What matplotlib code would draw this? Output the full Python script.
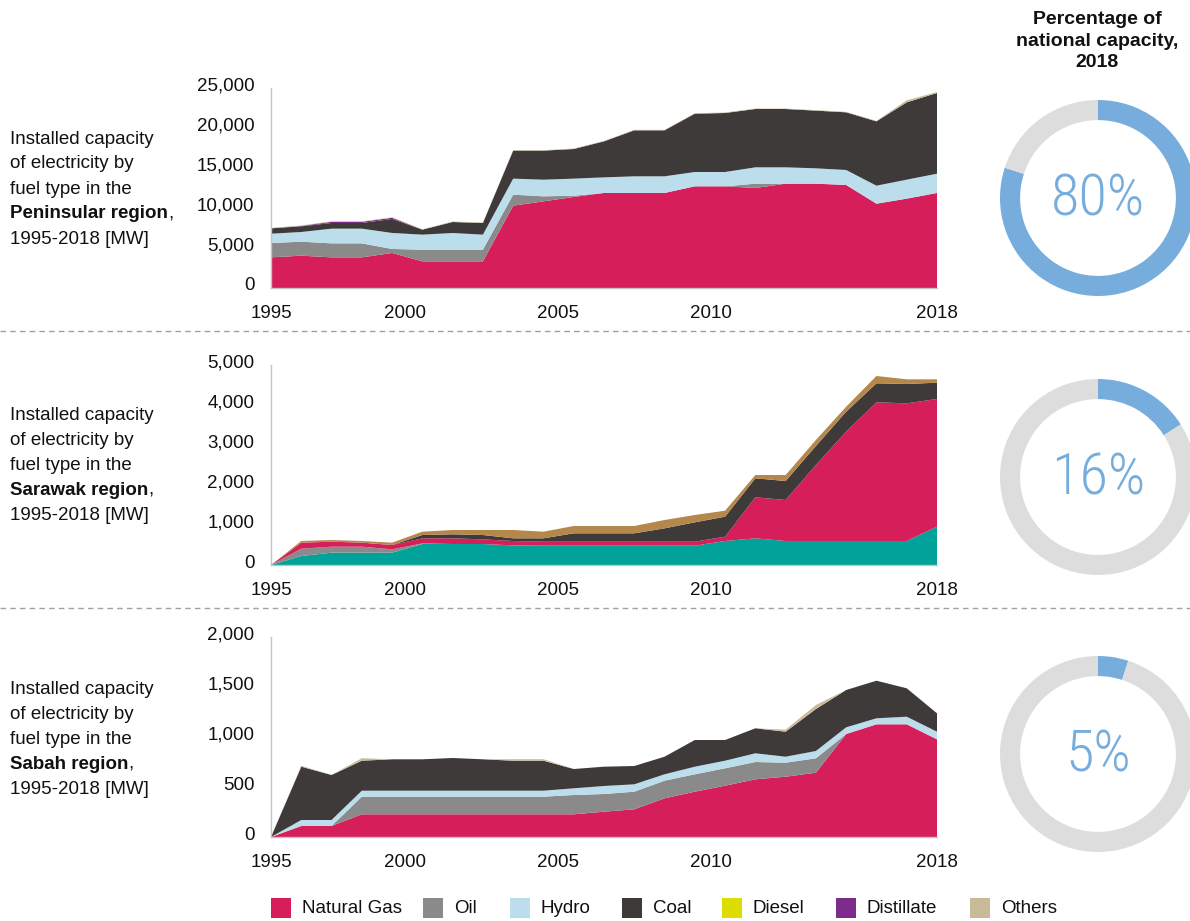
import numpy as np
import matplotlib
matplotlib.use("Agg")
import matplotlib.pyplot as plt
from matplotlib.patches import Rectangle
from matplotlib.lines import Line2D
from matplotlib.transforms import ScaledTranslation

plt.rcParams['font.family'] = ['Liberation Sans', 'DejaVu Sans']

# ---------------- data ----------------
tick_labels = ['1995', '2000', '2005', '2010', '2018']

# Peninsular region [MW]
pen_gas = [3830, 4040, 3830, 3830, 4380, 3330, 3330, 3330, 10290, 10830, 11380, 11880,
           11880, 11880, 12710, 12710, 12500, 13040, 13040, 12880, 10540, 11170, 11880]
pen_oil = [1790, 1750, 1750, 1750, 500, 1460, 1460, 1460, 1380, 630, 150, 0,
           0, 0, 0, 0, 540, 0, 0, 0, 0, 0, 0]
pen_hydro = [1165, 1210, 1840, 1840, 2000, 1880, 2085, 1880, 2000, 2080, 2140, 1950,
             2080, 2080, 1790, 1790, 2045, 2045, 1920, 1870, 2250, 2370, 2410]
pen_coal = [670, 710, 705, 705, 1750, 620, 1375, 1455, 3500, 3630, 3705, 4500,
            5750, 5750, 7290, 7375, 7290, 7290, 7210, 7210, 8040, 9670, 10085]
pen_diesel = [0, 0, 0, 0, 0, 0, 0, 0, 0, 0, 0, 0,
              0, 0, 0, 0, 0, 0, 0, 0, 0, 0, 0]
pen_distillate = [0, 50, 150, 150, 150, 0, 0, 0, 0, 0, 0, 0,
                  0, 0, 0, 0, 0, 0, 0, 0, 0, 0, 0]
pen_others = [60, 60, 60, 60, 60, 60, 60, 60, 60, 60, 60, 60,
              60, 60, 60, 60, 60, 60, 60, 60, 60, 250, 120]

# Sarawak region [MW]
sar_teal = [0, 225, 308, 308, 308, 525, 525, 525, 490, 483, 483, 483,
            483, 483, 483, 600, 667, 600, 600, 600, 600, 600, 958]
sar_oil = [0, 183, 150, 150, 84, 15, 0, 0, 0, 0, 0, 0,
           0, 0, 0, 0, 0, 0, 0, 0, 0, 0, 0]
sar_gas = [0, 150, 125, 100, 108, 127, 142, 116, 110, 100, 100, 100,
           100, 100, 100, 108, 1025, 1025, 1900, 2733, 3467, 3442, 3192]
sar_coal = [0, 0, 0, 0, 0, 83, 100, 109, 67, 84, 209, 209,
            209, 334, 484, 500, 475, 475, 475, 500, 475, 483, 408]
sar_others = [0, 42, 42, 42, 58, 83, 108, 125, 208, 166, 183, 183,
              183, 208, 183, 150, 83, 150, 150, 125, 183, 117, 84]

# Sabah region [MW]
sab_gas = [0, 110, 110, 227, 227, 227, 227, 227, 227, 227, 227, 253,
           277, 387, 453, 513, 577, 603, 643, 1030, 1127, 1127, 977]
sab_oil = [0, 0, 0, 176, 176, 176, 176, 176, 176, 176, 193, 177,
           176, 176, 174, 174, 173, 140, 144, 0, 0, 0, 0]
sab_hydro = [0, 60, 60, 60, 60, 60, 60, 60, 60, 60, 67, 80,
             74, 64, 76, 76, 87, 60, 73, 67, 60, 76, 76]
sab_coal = [0, 533, 450, 300, 314, 314, 327, 314, 300, 300, 193, 193,
            183, 176, 267, 207, 250, 250, 420, 373, 376, 284, 184]
sab_others = [0, 10, 0, 25, 0, 0, 0, 0, 15, 15, 0, 0,
              0, 0, 0, 0, 0, 20, 40, 0, 0, 0, 0]

shares = [80, 16, 5]

legend_labels = ['Natural Gas', 'Oil', 'Hydro', 'Coal', 'Diesel', 'Distillate', 'Others']

# ---------------- styles ----------------
C_GAS = '#D51E5A'
C_OIL = '#8A8A8A'
C_HYDRO = '#BBDDEC'
C_COAL = '#3E3A3A'
C_DIESEL = '#DCDC00'
C_DIST = '#7D2C8C'
C_OTHERS = '#C9BB9A'
C_TEAL = '#00A29A'
C_BROWN = '#B5874B'
C_RING = '#76ADDD'
C_RING_BG = '#DCDDDC'
legend_colors = [C_GAS, C_OIL, C_HYDRO, C_COAL, C_DIESEL, C_DIST, C_OTHERS]

W, H = 1190, 921
fig = plt.figure(figsize=(W / 100, H / 100), dpi=100)
renderer = fig.canvas.get_renderer()


def px_axes(x0, y0, x1, y1):
    return fig.add_axes([x0 / W, 1 - y1 / H, (x1 - x0) / W, (y1 - y0) / H])


FS = 13.5
tick_pos = [0, 4.43, 9.48, 14.54, 22]
lift = ScaledTranslation(0, 0.04, fig.dpi_scale_trans)


def area_panel(top, bottom, series, colors, ymax, ystep):
    ax = px_axes(271, top, 937, bottom)
    x = np.arange(len(series[0]))
    ax.stackplot(x, *series, colors=colors, linewidth=0)
    ax.set_xlim(0, len(x) - 1)
    ax.set_ylim(0, ymax)
    ax.set_yticks(np.arange(0, ymax + 1, ystep))
    ax.set_yticklabels([f'{v:,}' for v in np.arange(0, ymax + 1, ystep)])
    ax.set_xticks(tick_pos)
    ax.set_xticklabels(tick_labels)
    for s in ('top', 'right'):
        ax.spines[s].set_visible(False)
    for s in ('left', 'bottom'):
        ax.spines[s].set_color('#C4C4C4')
        ax.spines[s].set_linewidth(1.0)
    ax.tick_params(axis='y', length=0, pad=12, labelsize=FS, colors='#111111')
    ax.tick_params(axis='x', length=0, pad=12, labelsize=FS, colors='#111111')
    for lab in ax.get_yticklabels():
        lab.set_transform(lab.get_transform() + lift)
    ax.set_facecolor('none')
    return ax


area_panel(88, 288,
           [pen_gas, pen_oil, pen_hydro, pen_coal, pen_diesel, pen_distillate, pen_others],
           [C_GAS, C_OIL, C_HYDRO, C_COAL, C_DIESEL, C_DIST, C_OTHERS], 25000, 5000)
area_panel(365, 565,
           [sar_teal, sar_oil, sar_gas, sar_coal, sar_others],
           [C_TEAL, C_OIL, C_GAS, C_COAL, C_BROWN], 5000, 1000)
area_panel(637, 837,
           [sab_gas, sab_oil, sab_hydro, sab_coal, sab_others],
           [C_GAS, C_OIL, C_HYDRO, C_COAL, C_OTHERS], 2000, 500)

# left-hand descriptions
regions = ['Peninsular region', 'Sarawak region', 'Sabah region']
first_lines = [139, 415, 689]
for region, y0 in zip(regions, first_lines):
    lines = ['Installed capacity', 'of electricity by', 'fuel type in the']
    for i, ln in enumerate(lines):
        fig.text(10 / W, 1 - (y0 + 25 * i) / H, ln, fontsize=FS, va='center', ha='left',
                 color='#111111')
    yb = 1 - (y0 + 75) / H
    t = fig.text(10 / W, yb, region, fontsize=FS, va='center', ha='left',
                 weight='bold', color='#111111')
    bb = t.get_window_extent(renderer)
    fig.text(bb.x1 / W, yb, ',', fontsize=FS, va='center', ha='left', color='#111111')
    fig.text(10 / W, 1 - (y0 + 100) / H, '1995-2018 [MW]', fontsize=FS, va='center',
             ha='left', color='#111111')

# heading over the rings
fig.text(1097 / W, 1 - 41 / H, 'Percentage of\nnational capacity,\n2018', ha='center',
         va='center', fontsize=14, weight='bold', linespacing=1.32, color='#111111')

# rings
centers = [198, 477, 754]
R = 98
for share, cy in zip(shares, centers):
    ax = px_axes(1098 - R, cy - R, 1098 + R, cy + R)
    ax.pie([share, 100 - share], colors=[C_RING, C_RING_BG], startangle=90,
           counterclock=False, radius=1.0,
           wedgeprops=dict(width=0.205, edgecolor='none', linewidth=0))
    ax.set_xlim(-1, 1)
    ax.set_ylim(-1, 1)
    ax.set_aspect('equal')
    ax.axis('off')
    ax.text(0, -0.02, f'{share}%', ha='center', va='center', color=C_RING, fontsize=42,
            family=['Roboto Condensed', 'Liberation Sans Narrow', 'DejaVu Sans'],
            weight='light')

# dashed separators
for y in (331, 608):
    fig.add_artist(Line2D([0, 1], [1 - y / H, 1 - y / H], transform=fig.transFigure,
                          color='#A0A0A0', lw=1.0, ls=(0, (4, 3))))

# legend
leg_x = [271, 423, 510, 622, 722, 836, 970]
for x0, lab, col in zip(leg_x, legend_labels, legend_colors):
    fig.add_artist(Rectangle((x0 / W, 1 - 918 / H), 20 / W, 20 / H,
                             transform=fig.transFigure, facecolor=col, edgecolor='none'))
    fig.text((x0 + 31) / W, 1 - 908 / H, lab, fontsize=FS, va='center', ha='left',
             color='#111111')

fig.savefig('out.png', dpi=100)
